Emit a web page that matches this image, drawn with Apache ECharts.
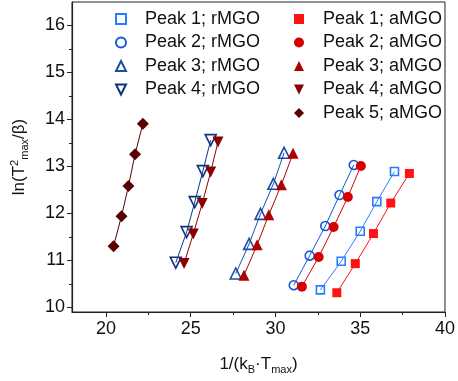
<!DOCTYPE html>
<html>
<head>
<meta charset="utf-8">
<script src="https://cdn.jsdelivr.net/npm/echarts@6/dist/echarts.min.js"></script>
<style>
  html, body { margin: 0; padding: 0; background: #fff; }
  #chart { width: 458px; height: 381px; }
</style>
</head>
<body>
<div id="chart"></div>
<script>
// values: x = 1/(kB*Tmax), y = ln(Tmax^2/beta)
const peak1R_x = [32.65, 33.88, 35.00, 35.98, 37.02];
const peak1R_y = [10.37, 10.98, 11.62, 12.25, 12.89];
const peak2R_x = [31.08, 32.02, 32.94, 33.78, 34.62];
const peak2R_y = [10.47, 11.10, 11.73, 12.39, 13.03];
const peak3R_x = [27.66, 28.45, 29.12, 29.88, 30.51];
const peak3R_y = [10.72, 11.35, 11.99, 12.63, 13.29];
const peak4R_x = [24.12, 24.76, 25.24, 25.72, 26.18];
const peak4R_y = [10.95, 11.60, 12.24, 12.90, 13.56];

const peak1A_x = [33.62, 34.71, 35.78, 36.80, 37.90];
const peak1A_y = [10.31, 10.93, 11.57, 12.22, 12.85];
const peak2A_x = [31.56, 32.55, 33.43, 34.27, 35.04];
const peak2A_y = [10.44, 11.07, 11.71, 12.35, 13.01];
const peak3A_x = [28.14, 28.92, 29.61, 30.35, 31.04];
const peak3A_y = [10.68, 11.33, 11.97, 12.61, 13.28];
const peak4A_x = [24.61, 25.15, 25.68, 26.18, 26.61];
const peak4A_y = [10.93, 11.56, 12.21, 12.88, 13.52];
const peak5A_x = [20.45, 20.92, 21.33, 21.72, 22.18];
const peak5A_y = [11.30, 11.94, 12.58, 13.26, 13.91];

const xMajorTicks = [20, 25, 30, 35, 40];
const xMinorTicks = [22.5, 27.5, 32.5, 37.5];
const yMajorTicks = [10, 11, 12, 13, 14, 15, 16];
const yMinorTicks = [10.5, 11.5, 12.5, 13.5, 14.5, 15.5];

const rNames = ['Peak 1; rMGO', 'Peak 2; rMGO', 'Peak 3; rMGO', 'Peak 4; rMGO'];
const aNames = ['Peak 1; aMGO', 'Peak 2; aMGO', 'Peak 3; aMGO', 'Peak 4; aMGO', 'Peak 5; aMGO'];

const pairs = (xs, ys) => xs.map((x, i) => [x, ys[i]]);

const chart = echarts.init(document.getElementById('chart'));
const font = 'Liberation Sans, Arial, sans-serif';
const axisColor = '#222';
const downTriangle = 'path://M0,0 L10,0 L5,10 Z';

// one group = fit line + markers
const group = (name, xs, ys, color, symbol, size, hollow, rotate) => {
    const data = pairs(xs, ys);
    return [
        {
            name: name + ' fit',
            type: 'line',
            data: data,
            showSymbol: false,
            silent: true,
            lineStyle: { color: color, width: 1 },
            z: 2
        },
        {
            name: name,
            type: 'scatter',
            data: data,
            symbol: symbol,
            symbolSize: size,
            symbolRotate: rotate || 0,
            itemStyle: hollow
                ? { color: 'rgba(255,255,255,0)', borderColor: color, borderWidth: 1.6, opacity: 1 }
                : { color: color, opacity: 1 },
            z: 3
        }
    ];
};

const series = [].concat(
    group(rNames[0], peak1R_x, peak1R_y, '#2a7cff', 'rect', 8, true),
    group(rNames[1], peak2R_x, peak2R_y, '#1259dc', 'circle', 9, true),
    group(rNames[2], peak3R_x, peak3R_y, '#1b4ea8', 'triangle', 11, true),
    group(rNames[3], peak4R_x, peak4R_y, '#0f3282', 'triangle', 11, true, 180),
    group(aNames[0], peak1A_x, peak1A_y, '#ff1212', 'rect', 9, false),
    group(aNames[1], peak2A_x, peak2A_y, '#d60000', 'circle', 10, false),
    group(aNames[2], peak3A_x, peak3A_y, '#b00000', 'triangle', 11, false),
    group(aNames[3], peak4A_x, peak4A_y, '#880000', 'triangle', 11, false, 180),
    group(aNames[4], peak5A_x, peak5A_y, '#5a0000', 'diamond', 12, false)
);

// legend entries; the down triangles get their own icon
const legendItems = names => names.map(n => n.indexOf('Peak 4') === 0
    ? { name: n, icon: downTriangle }
    : { name: n });

const legendBase = {
    orient: 'vertical',
    top: 4,
    itemWidth: 10,
    itemHeight: 10,
    itemGap: 3.5,
    symbolKeepAspect: true,
    selectedMode: false,
    textStyle: { fontFamily: font, fontSize: 18, color: '#111', lineHeight: 20, padding: [0, 0, 0, 14] }
};

const option = {
    animation: false,
    backgroundColor: '#fff',
    grid: {
        left: 72, right: 11, top: 2, bottom: 69,
        show: true, borderColor: axisColor, borderWidth: 1
    },
    legend: [
        Object.assign({}, legendBase, { left: 110, data: legendItems(rNames) }),
        Object.assign({}, legendBase, { left: 289, data: legendItems(aNames) })
    ],
    xAxis: [
        {
            type: 'value', min: 18, max: 40,
            name: '1/(k{sub|B}·T{sub|max})',
            nameLocation: 'middle', nameGap: 42,
            nameTextStyle: {
                fontFamily: font, fontSize: 17, color: '#111',
                rich: { sub: { fontSize: 11, verticalAlign: 'bottom', padding: [10, 0, 0, 0], fontFamily: font, color: '#111' } }
            },
            splitLine: { show: false },
            axisLine: { lineStyle: { color: axisColor, width: 1.2 } },
            axisTick: { customValues: xMajorTicks, length: 5, lineStyle: { color: axisColor } },
            axisLabel: { customValues: xMajorTicks, fontFamily: font, fontSize: 18, color: '#111', margin: 8 }
        },
        {
            type: 'value', min: 18, max: 40, position: 'bottom',
            axisLine: { show: false },
            splitLine: { show: false },
            axisTick: { customValues: xMinorTicks, length: 3, lineStyle: { color: axisColor } },
            axisLabel: { show: false }
        }
    ],
    yAxis: [
        {
            type: 'value', min: 9.9, max: 16.5,
            name: 'ln(T{sup|2}{sub|max}/β)',
            nameLocation: 'middle', nameGap: 42, nameRotate: 90,
            nameTextStyle: {
                fontFamily: font, fontSize: 17, color: '#111',
                rich: {
                    sup: { fontSize: 11, verticalAlign: 'top', padding: [0, 0, 8, 0], fontFamily: font, color: '#111' },
                    sub: { fontSize: 11, verticalAlign: 'bottom', padding: [10, 0, 0, 0], fontFamily: font, color: '#111' }
                }
            },
            splitLine: { show: false },
            axisLine: { lineStyle: { color: axisColor, width: 1.2 } },
            axisTick: { customValues: yMajorTicks, length: 5, lineStyle: { color: axisColor } },
            axisLabel: { customValues: yMajorTicks, fontFamily: font, fontSize: 18, color: '#111', margin: 7 }
        },
        {
            type: 'value', min: 9.9, max: 16.5, position: 'left',
            axisLine: { show: false },
            splitLine: { show: false },
            axisTick: { customValues: yMinorTicks, length: 3, lineStyle: { color: axisColor } },
            axisLabel: { show: false }
        }
    ],
    series: series
};

chart.setOption(option);
</script>
</body>
</html>
